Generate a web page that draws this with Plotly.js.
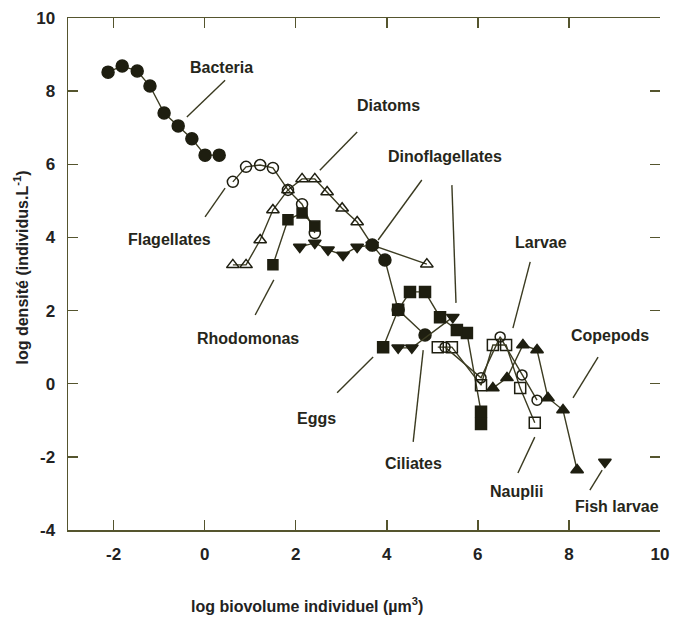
<!DOCTYPE html>
<html>
<head>
<meta charset="utf-8">
<script src="https://cdn.plot.ly/plotly-3.0.1.min.js"></script>
<style>html,body{margin:0;padding:0;background:#fff;}#chart{width:676px;height:622px;}</style>
</head>
<body>
<div id="chart"></div>
<script>
// ---- data (log biovolume, log density) ----
const bacteriaX = [-2.12, -1.81, -1.48, -1.20, -0.89, -0.58, -0.28, 0.01, 0.32];
const bacteriaY = [8.52, 8.69, 8.55, 8.14, 7.40, 7.05, 6.70, 6.25, 6.25];

const flagellatesX = [0.62, 0.91, 1.22, 1.50, 1.83, 2.14, 2.42];
const flagellatesY = [5.52, 5.93, 5.98, 5.90, 5.30, 4.91, 4.12];

const diatomsX = [0.62, 0.91, 1.22, 1.50, 1.83, 2.14, 2.42, 2.69, 3.02, 3.35, 3.68, 4.88];
const diatomsY = [3.25, 3.25, 3.93, 4.75, 5.30, 5.60, 5.60, 5.24, 4.80, 4.42, 3.79, 3.27];

const rhodomonasX = [1.50, 1.83, 2.14, 2.42];
const rhodomonasY = [3.25, 4.48, 4.67, 4.31];

const dinoflagellatesX = [2.09, 2.42, 2.71, 3.04, 3.35, 3.68];
const dinoflagellatesY = [3.74, 3.85, 3.66, 3.52, 3.74, 3.79];
const dinoflagellates2X = [4.25, 4.55, 5.45];
const dinoflagellates2Y = [0.98, 0.98, 1.82];

const ciliatesX = [3.68, 3.96, 4.25, 4.84];
const ciliatesY = [3.79, 3.38, 2.02, 1.33];

const eggsX = [3.92, 4.25, 4.51, 4.84, 5.17, 5.54, 5.76, 6.07, 6.07];
const eggsY = [1.00, 2.02, 2.51, 2.51, 1.82, 1.47, 1.39, -0.77, -1.10];

const naupliiX = [5.12, 5.43, 6.07, 6.33, 6.62, 6.93, 7.25];
const naupliiY = [1.00, 1.00, -0.04, 1.06, 1.06, -0.12, -1.07];

const larvaeX = [5.28, 6.07, 6.49, 6.97, 7.30];
const larvaeY = [1.00, 0.16, 1.28, 0.24, -0.45];

const copepodsX = [6.33, 6.64, 6.99, 7.30, 7.54, 7.87, 8.18];
const copepodsY = [-0.12, 0.16, 1.06, 0.92, -0.39, -0.72, -2.36];

const fishLarvaeX = [8.79];
const fishLarvaeY = [-2.14];

// labels and pointer lines (data coordinates)
const labelTexts = ["Bacteria", "Diatoms", "Flagellates", "Dinoflagellates", "Larvae", "Copepods",
                    "Rhodomonas", "Eggs", "Ciliates", "Nauplii", "Fish larvae"];
const labelX = [0.38, 4.03, -0.78, 5.28, 7.39, 8.90, 0.95, 2.45, 4.58, 6.84, 9.06];
const labelY = [8.66, 7.62, 3.93, 6.20, 3.85, 1.33, 1.25, -0.94, -2.17, -2.96, -3.37];

const pointerX0 = [0.45, 3.35, 0.01, 4.77, 5.43, 7.15, 8.64, 1.11, 2.91, 4.58, 6.88, 8.46];
const pointerY0 = [8.30, 6.88, 4.56, 5.57, 5.43, 3.33, 0.73, 1.88, -0.25, -1.59, -2.44, -2.91];
const pointerX1 = [-0.39, 2.53, 0.45, 3.81, 5.52, 6.77, 8.09, 1.52, 3.70, 4.80, 7.25, 8.73];
const pointerY1 = [7.29, 5.84, 5.35, 3.93, 2.21, 1.52, -0.39, 2.84, 0.73, 0.92, -1.46, -2.36];

const xTickVals = [-2, 0, 2, 4, 6, 8, 10];
const yTickVals = [-4, -2, 0, 2, 4, 6, 8, 10];

// ---- styles ----
const ink = "#1e1e10";
const lineInk = "#3c3c22";
const fam = "Liberation Sans, Arial, sans-serif";

function series(x, y, symbol, size) {
  return {
    x: x, y: y, type: "scatter", mode: "lines+markers",
    line: {color: lineInk, width: 1.4},
    marker: {symbol: symbol, size: size, color: ink, line: {color: ink, width: 1.5}},
    hoverinfo: "skip", showlegend: false
  };
}

const traces = [
  series(diatomsX, diatomsY, "triangle-up-open", 11),
  series(flagellatesX, flagellatesY, "circle-open", 11),
  series(rhodomonasX, rhodomonasY, "square", 10),
  series(dinoflagellatesX, dinoflagellatesY, "triangle-down", 11),
  series(bacteriaX, bacteriaY, "circle", 12),
  series(ciliatesX, ciliatesY, "circle", 12),
  series(dinoflagellates2X, dinoflagellates2Y, "triangle-down", 11),
  series(eggsX, eggsY, "square", 11),
  series(naupliiX, naupliiY, "square-open", 11),
  series(larvaeX, larvaeY, "circle-open", 10),
  series(copepodsX, copepodsY, "triangle-up", 11),
  series(fishLarvaeX, fishLarvaeY, "triangle-down", 11)
];

const annotations = labelTexts.map((t, i) => ({
  x: labelX[i], y: labelY[i], xref: "x", yref: "y", text: t, showarrow: false,
  font: {family: fam, size: 16, color: "#26261a", weight: "bold"},
  xanchor: "center", yanchor: "middle"
}));
annotations.push({
  x: 0.404, y: -0.146, xref: "paper", yref: "paper",
  text: "log biovolume individuel (µm<sup>3</sup>)", showarrow: false,
  font: {family: fam, size: 16, color: "#222", weight: "bold"},
  xanchor: "center", yanchor: "middle"
});
annotations.push({
  x: -0.08, y: 0.512, xref: "paper", yref: "paper", textangle: -90,
  text: "log densité (individus.L<sup>-1</sup>)", showarrow: false,
  font: {family: fam, size: 16, color: "#222", weight: "bold"},
  xanchor: "center", yanchor: "middle"
});

const shapes = pointerX0.map((x0, i) => ({
  type: "line", xref: "x", yref: "y",
  x0: x0, y0: pointerY0[i], x1: pointerX1[i], y1: pointerY1[i],
  line: {color: "#3a3a20", width: 1.4}
}));

const axisFont = {family: fam, size: 17, color: "#222", weight: "bold"};

const layout = {
  width: 676, height: 622,
  margin: {l: 68, r: 16, t: 18, b: 92},
  paper_bgcolor: "#fff", plot_bgcolor: "#fff",
  xaxis: {
    range: [-3, 10], tickvals: xTickVals, ticktext: xTickVals.map(String),
    showgrid: false, zeroline: false, showline: true, mirror: "ticks",
    linecolor: "#55552e", linewidth: 1.5, ticks: "inside", ticklen: 10,
    tickcolor: "#55552e", tickwidth: 1.5, tickfont: axisFont, ticklabelstandoff: 8
  },
  yaxis: {
    range: [-4, 10], tickvals: yTickVals, ticktext: yTickVals.map(String),
    showgrid: false, zeroline: false, showline: true, mirror: false,
    linecolor: "#55552e", linewidth: 1.5, ticks: "inside", ticklen: 10,
    tickcolor: "#55552e", tickwidth: 1.5, tickfont: axisFont, ticklabelstandoff: 8
  },
  yaxis2: {
    range: [-4, 10], tickvals: yTickVals, overlaying: "y", side: "right",
    showgrid: false, zeroline: false, showline: false, showticklabels: false,
    ticks: "inside", ticklen: 10, tickcolor: "#55552e", tickwidth: 1.5
  },
  annotations: annotations,
  shapes: shapes
};

traces.push({x: [null], y: [null], yaxis: "y2", type: "scatter", mode: "markers", showlegend: false, hoverinfo: "skip"});

Plotly.newPlot("chart", traces, layout, {displayModeBar: false, staticPlot: true});
</script>
</body>
</html>
